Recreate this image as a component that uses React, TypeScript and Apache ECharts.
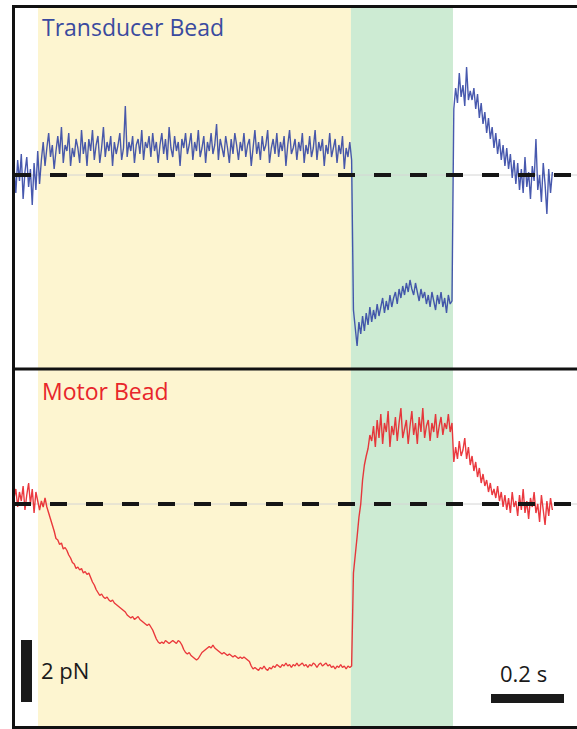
import React, { useEffect, useRef } from "react";
import * as echarts from "echarts";

// sampling interval of both traces, in seconds
const DT = 0.005;

// Transducer bead force (pN), one value per DT
const TRANSDUCER_FORCE: number[] = [
  0.3, -0.6, 0.5, -0.2, 0.7, -0.8, 0.1, 0.6, -0.4, 0.2, -1.0, 0.4, -0.5, 0.8, -0.3,
  0.5, 1.1, 0.3, 0.9, 1.4, 0.6, 1.0, 0.2, 0.8, 1.3,
  0.7, 1.6, 0.4, 1.0, 0.8, 1.4, 0.3, 0.9, 0.6, 1.2,
  0.9, 0.4, 1.5, 0.7, 1.1, 0.3, 1.2, 0.8, 1.5, 0.5,
  1.0, 1.3, 0.4, 0.9, 1.6, 0.6, 1.1, 0.8, 1.3, 0.3,
  1.1, 0.7, 1.0, 1.4, 0.5, 0.9, 2.3, 0.6, 1.1, 0.8,
  1.3, 0.4, 1.0, 1.2, 0.7, 1.5, 0.5, 1.1, 0.9, 1.3,
  0.6, 1.4, 0.8, 1.1, 0.4, 1.0, 1.4, 0.7, 1.2, 0.5,
  1.6, 0.9, 0.6, 1.3, 0.8, 1.1, 0.3, 1.2, 0.9, 1.4,
  0.7, 1.0, 1.4, 0.5, 1.1, 0.8, 1.5, 0.6, 0.9, 1.3,
  0.4, 1.1, 0.8, 1.4, 0.7, 1.0, 1.7, 0.5, 1.2, 0.9,
  0.6, 1.3, 0.9, 0.4, 1.2, 0.7, 1.4, 1.0, 0.5, 1.1,
  0.8, 1.4, 0.6, 1.0, 1.2, 0.3, 0.9, 1.5, 0.7, 1.1,
  0.5, 1.3, 0.8, 1.0, 1.5, 0.4, 0.9, 1.2, 0.7, 1.4,
  0.6, 1.1, 0.8, 1.3, 0.3, 1.0, 1.5, 0.7, 0.9, 1.2,
  0.5, 1.1, 0.8, 1.4, 0.4, 1.0, 0.7, 1.3, 0.6, 0.9,
  1.5, 0.5, 1.1, 0.8, 1.2, 0.3, 1.0, 0.7, 1.4, 0.6,
  0.9, 1.2, 0.4, 1.0, 0.7, 1.3, 0.2, 0.9, 0.6, 1.1, 0.5,
  -4.5, -5.1, -5.7, -4.9, -5.3, -4.7, -5.2, -4.6, -5.0, -4.4,
  -4.9, -4.5, -4.8, -4.3, -4.7, -4.4, -4.1, -4.6, -4.2, -4.5,
  -4.0, -4.4, -4.1, -3.9, -4.3, -3.8, -4.1, -3.7, -4.0, -3.6,
  -3.9, -3.5, -3.8, -4.0, -3.6, -3.9, -4.2, -3.8, -4.1, -3.9,
  -4.3, -4.0, -4.4, -3.9, -4.2, -4.5, -4.0, -4.3, -3.9, -4.4,
  -4.1, -4.6, -4.0, -4.3, -4.2,
  2.2, 2.9, 2.4, 3.4, 2.6, 3.0, 2.3, 3.6, 2.5, 2.8,
  2.5, 2.9, 2.2, 2.7, 1.9, 2.4, 1.7, 2.1, 1.4, 1.9,
  1.2, 1.6, 0.9, 1.4, 0.7, 1.2, 0.5, 1.0, 0.3, 0.9,
  0.2, 0.7, -0.1, 0.5, -0.3, 0.4, -0.5, 0.2, -0.6, 0.6,
  -0.4, 0.1, -0.8, 0.3, -0.2, 1.2, -0.5, 0.0, -0.9, 0.4,
  -0.3, -1.3, 0.2, -0.6, 0.1,
];

// Motor bead force (pN), one value per DT
const MOTOR_FORCE: number[] = [
  0.2, 0.5, -0.1, 0.4, 0.1, 0.6, -0.2, 0.3, 0.7, 0.0, 0.5, -0.3, 0.4, 0.1, -0.2,
  0.1, -0.1, 0.2, -0.1, -0.3, -0.5, -0.7, -0.9, -1.15, -1.2,
  -1.35, -1.3, -1.5, -1.45, -1.55, -1.7, -1.8, -1.95, -2.0, -2.15,
  -2.1, -2.2, -2.15, -2.3, -2.25, -2.35, -2.3, -2.45, -2.6, -2.7,
  -2.85, -2.95, -3.05, -3.0, -3.1, -3.15, -3.1, -3.2, -3.25, -3.2,
  -3.3, -3.35, -3.4, -3.45, -3.5, -3.55, -3.6, -3.7, -3.75, -3.8,
  -3.75, -3.85, -3.8, -3.75, -3.85, -3.9, -3.95, -4.0, -4.05, -4.0,
  -4.1, -4.2, -4.35, -4.5, -4.6, -4.65, -4.6, -4.65, -4.55, -4.6,
  -4.65, -4.6, -4.55, -4.6, -4.65, -4.55, -4.6, -4.7, -4.85, -4.95,
  -5.0, -4.95, -5.05, -5.1, -5.15, -5.2, -5.15, -5.05, -4.95, -4.9,
  -4.85, -4.8, -4.75, -4.8, -4.7, -4.8, -4.85, -4.9, -4.95, -5.0,
  -4.95, -5.0, -5.05, -5.0, -5.05, -5.1, -5.05, -5.1, -5.15, -5.1,
  -5.15, -5.1, -5.15, -5.2, -5.25, -5.4, -5.5, -5.45, -5.5, -5.55,
  -5.45, -5.5, -5.4, -5.5, -5.55, -5.45, -5.5, -5.4, -5.45, -5.35,
  -5.4, -5.45, -5.35, -5.4, -5.3, -5.4, -5.35, -5.45, -5.35, -5.4,
  -5.3, -5.4, -5.35, -5.3, -5.4, -5.35, -5.45, -5.35, -5.4, -5.3,
  -5.35, -5.45, -5.35, -5.3, -5.4, -5.35, -5.3, -5.4, -5.35, -5.45,
  -5.4, -5.5, -5.4, -5.45, -5.35, -5.45, -5.4, -5.5, -5.4, -5.45, -5.4,
  -2.3, -1.7, -1.1, -0.45, 0.0, 0.8, 1.3, 1.6, 1.85, 2.3, 2.1,
  2.6, 1.9, 2.8, 2.2, 3.0, 2.0, 2.7, 2.4, 3.1, 1.9,
  2.6, 2.3, 2.9, 2.1, 2.7, 3.2, 2.2, 2.5, 2.8, 2.0,
  2.6, 3.1, 2.3, 2.7, 2.0, 2.9, 2.4, 3.2, 2.2, 2.6,
  2.8, 2.1, 2.7, 2.4, 3.0, 2.2, 2.6, 2.9, 2.3, 2.7,
  2.5, 3.0, 2.4, 2.7,
  1.4, 1.9, 1.5, 2.1, 1.6, 1.8, 2.2, 1.5, 1.9, 1.3,
  1.6, 1.1, 1.4, 0.9, 1.2, 0.7, 1.0, 0.6, 0.8, 0.4,
  0.7, 0.3, 0.5, 0.2, 0.6, 0.1, 0.4, -0.1, 0.3, -0.2,
  0.2, -0.3, 0.4, -0.1, 0.1, -0.4, 0.3, -0.2, 0.5, -0.3,
  0.1, -0.5, 0.2, -0.1, 0.4, -0.3, 0.0, -0.6, 0.3, -0.2,
  -0.7, 0.1, -0.4, 0.2, -0.2,
];

// shaded phases (s)
const YELLOW_PHASE = [0.0658, 0.923];
const GREEN_PHASE = [0.923, 1.2027];

const PANEL_TITLES = ["Transducer Bead", "Motor Bead"];
const FORCE_SCALE_LABEL = "2 pN";
const TIME_SCALE_LABEL = "0.2 s";

const X_MAX = 1.5425;
const FONT = "'Open Sans', 'Noto Sans', sans-serif";

export default function App() {
  const ref = useRef<HTMLDivElement>(null);

  useEffect(() => {
    if (!ref.current) return;
    const chart = echarts.init(ref.current, undefined, { renderer: "svg" });

    const toPts = (arr: number[]) => arr.map((v, i) => [+(i * DT).toFixed(4), v]);
    const baseline = [[0, 0], [X_MAX, 0]];

    const shading = {
      silent: true,
      data: [
        [{ xAxis: YELLOW_PHASE[0], itemStyle: { color: "#fdf5d0" } }, { xAxis: YELLOW_PHASE[1] }],
        [{ xAxis: GREEN_PHASE[0], itemStyle: { color: "#cdebd3" } }, { xAxis: GREEN_PHASE[1] }],
      ],
    };

    const panelSeries = (idx: number, data: number[], color: string, width: number) => [
      {
        type: "line",
        xAxisIndex: idx,
        yAxisIndex: idx,
        data: baseline,
        symbol: "none",
        silent: true,
        z: 1,
        lineStyle: { color: "#d4d4d4", width: 1 },
        markArea: shading,
      },
      {
        type: "line",
        xAxisIndex: idx,
        yAxisIndex: idx,
        data: toPts(data),
        symbol: "none",
        z: 2,
        lineStyle: { color, width, opacity: 0.9 },
      },
      {
        type: "line",
        xAxisIndex: idx,
        yAxisIndex: idx,
        data: baseline,
        symbol: "none",
        silent: true,
        z: 3,
        lineStyle: { color: "#151515", width: 4, type: [17, 19] },
      },
    ];

    const hiddenAxis = {
      axisLine: { show: false },
      axisTick: { show: false },
      axisLabel: { show: false },
      splitLine: { show: false },
    };

    chart.setOption({
      animation: false,
      backgroundColor: "#ffffff",
      grid: [
        { left: 14, top: 8, width: 563, height: 360 },
        { left: 14, top: 370, width: 563, height: 357 },
      ],
      xAxis: [
        { type: "value", gridIndex: 0, min: 0, max: X_MAX, ...hiddenAxis },
        { type: "value", gridIndex: 1, min: 0, max: X_MAX, ...hiddenAxis },
      ],
      yAxis: [
        { type: "value", gridIndex: 0, min: -6.4333, max: 5.5667, ...hiddenAxis },
        { type: "value", gridIndex: 1, min: -7.4333, max: 4.4667, ...hiddenAxis },
      ],
      series: [
        ...panelSeries(0, TRANSDUCER_FORCE, "#3447a5", 1.4),
        ...panelSeries(1, MOTOR_FORCE, "#e8232a", 1.4),
      ],
      graphic: [
        { type: "rect", shape: { x: 12, y: 5, width: 3, height: 724 }, style: { fill: "#111" }, z: 10 },
        { type: "rect", shape: { x: 12, y: 5, width: 565, height: 3 }, style: { fill: "#111" }, z: 10 },
        { type: "rect", shape: { x: 12, y: 367.5, width: 565, height: 3 }, style: { fill: "#111" }, z: 10 },
        { type: "rect", shape: { x: 12, y: 726, width: 565, height: 3 }, style: { fill: "#111" }, z: 10 },
        { type: "rect", shape: { x: 21, y: 640, width: 11, height: 62 }, style: { fill: "#1a1a1a" }, z: 10 },
        { type: "rect", shape: { x: 491, y: 694, width: 73, height: 9 }, style: { fill: "#1a1a1a" }, z: 10 },
        {
          type: "text", x: 42, y: 27, z: 10,
          style: { text: PANEL_TITLES[0], fill: "#3a4a9f", font: `23px ${FONT}`, textVerticalAlign: "middle" },
        },
        {
          type: "text", x: 42, y: 391, z: 10,
          style: { text: PANEL_TITLES[1], fill: "#e8262b", font: `23px ${FONT}`, textVerticalAlign: "middle" },
        },
        {
          type: "text", x: 41, y: 670, z: 10,
          style: { text: FORCE_SCALE_LABEL, fill: "#1a1a1a", font: `22px ${FONT}`, textVerticalAlign: "middle" },
        },
        {
          type: "text", x: 500, y: 673, z: 10,
          style: { text: TIME_SCALE_LABEL, fill: "#1a1a1a", font: `22px ${FONT}`, textVerticalAlign: "middle" },
        },
      ],
    });

    return () => chart.dispose();
  }, []);

  return (
    <div
      ref={ref}
      style={{ position: "absolute", left: 0, top: 0, width: 577, height: 729, background: "#fff" }}
    />
  );
}
